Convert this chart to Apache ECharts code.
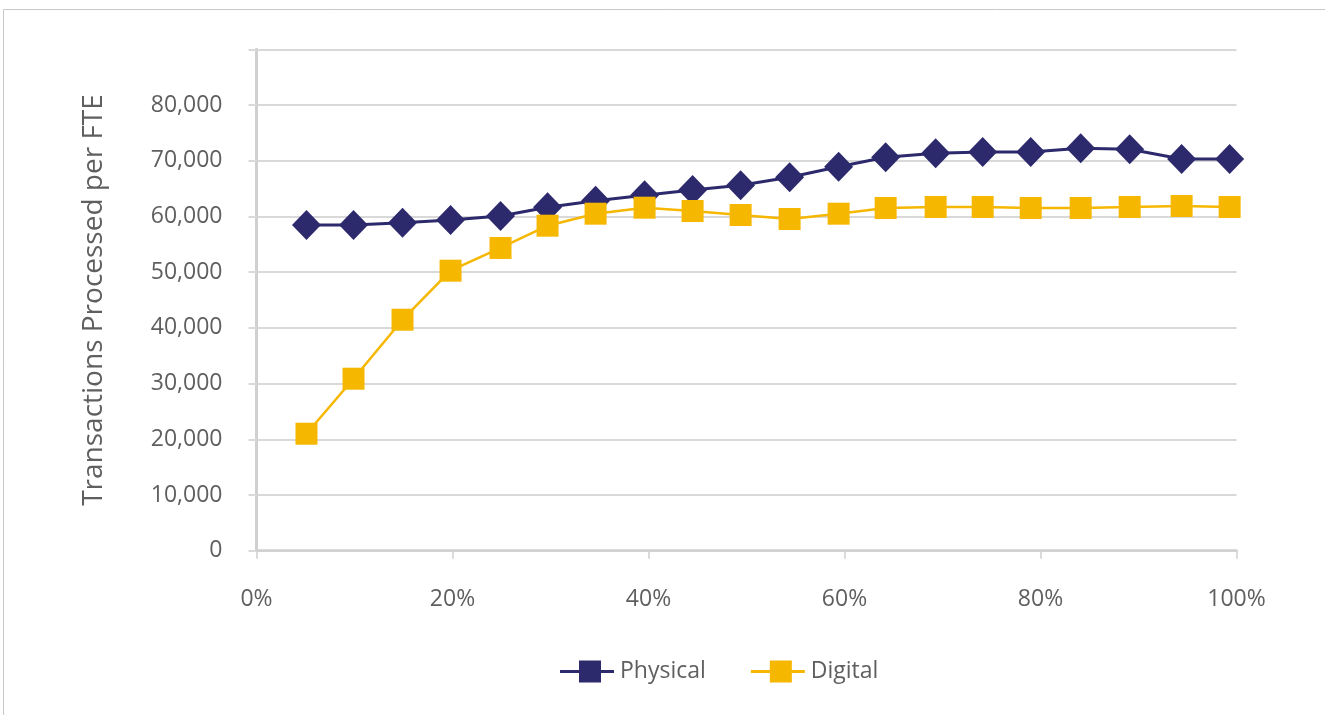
<!DOCTYPE html>
<html>
<head>
<meta charset="utf-8">
<style>
  html, body { margin: 0; padding: 0; background: #ffffff; }
  #chart { width: 1325px; height: 715px; }
</style>
<script src="https://cdn.jsdelivr.net/npm/echarts@6/dist/echarts.min.js"></script>
</head>
<body>
<div id="chart"></div>
<script>
// Share of volume processed (%), one point per band
const shares = [5.1, 9.9, 14.9, 19.8, 24.9, 29.7, 34.6, 39.6, 44.5, 49.4,
                54.4, 59.4, 64.2, 69.3, 74.1, 79.0, 84.1, 89.1, 94.4, 99.3];

// Transactions processed per FTE
const physical = [58460, 58460, 58880, 59360, 60080, 61640, 62820, 63790, 64750, 65590,
                  67020, 68930, 70620, 71330, 71570, 71570, 72230, 72050, 70310, 70310];
const digital  = [21000, 30870, 41460, 50260, 54340, 58340, 60490, 61570, 60980, 60260,
                  59540, 60490, 61520, 61700, 61700, 61520, 61520, 61700, 61870, 61700];

const seriesNames = ['Physical', 'Digital'];
const yTitle = 'Transactions Processed per FTE';

const NAVY = '#2C2A6C';
const GOLD = '#F6B700';
const TEXT = '#5f5f5f';
const GRID = '#d9d9d9';
const AXIS = '#d0d0d0';
const FONT = '"Open Sans", "Liberation Sans", sans-serif';

// Legend glyph: a short line through a square marker
const legendIcon = 'path://M0,9.5 L19,9.5 L19,0 L41,0 L41,9.5 L54,9.5 L54,12.5 L41,12.5 L41,22 L19,22 L19,12.5 L0,12.5 Z';

const pairs = (ys) => shares.map((x, i) => [x, ys[i]]);

const chart = echarts.init(document.getElementById('chart'), null, { renderer: 'canvas' });
chart.setOption({
  backgroundColor: '#ffffff',
  animation: false,
  textStyle: { fontFamily: FONT },
  graphic: [{
    type: 'rect',
    silent: true,
    shape: { x: 3.5, y: 9.5, width: 1400, height: 800 },
    style: { fill: 'none', stroke: '#c8c8c8', lineWidth: 1 }
  }],
  grid: { left: 256.5, right: 88.5, top: 49.3, bottom: 164.3, containLabel: false },
  legend: {
    data: seriesNames.map(n => ({ name: n, icon: legendIcon })),
    top: 655,
    left: 555,
    itemWidth: 54,
    itemHeight: 22,
    itemGap: 45,
    textStyle: { color: TEXT, fontSize: 23, fontFamily: FONT, padding: [0, 0, 0, 1] }
  },
  xAxis: {
    type: 'value',
    min: 0, max: 100, interval: 20,
    axisLine: { show: true, lineStyle: { color: AXIS, width: 2.5 } },
    axisTick: { show: true, length: 8, lineStyle: { color: AXIS, width: 1.5 } },
    splitLine: { show: false },
    axisLabel: { formatter: '{value}%', color: TEXT, fontSize: 23, margin: 37, fontFamily: FONT }
  },
  yAxis: {
    type: 'value',
    min: 0, max: 90000, interval: 10000,
    name: yTitle,
    nameLocation: 'middle',
    nameGap: 148,
    nameRotate: 90,
    nameTextStyle: { color: TEXT, fontSize: 28, fontFamily: FONT },
    axisLine: { show: true, lineStyle: { color: AXIS, width: 3 } },
    axisTick: { show: true, length: 8, lineStyle: { color: GRID, width: 2 } },
    splitLine: { show: true, lineStyle: { color: GRID, width: 2 } },
    axisLabel: {
      color: TEXT, fontSize: 23, margin: 34, fontFamily: FONT,
      formatter: v => (v >= 90000 ? '' : v.toLocaleString('en-US'))
    }
  },
  series: [
    {
      name: seriesNames[0],
      type: 'line',
      data: pairs(physical),
      symbol: 'diamond',
      symbolSize: [29, 30],
      itemStyle: { color: NAVY },
      lineStyle: { color: NAVY, width: 3 },
      z: 2
    },
    {
      name: seriesNames[1],
      type: 'line',
      data: pairs(digital),
      symbol: 'rect',
      symbolSize: 22,
      itemStyle: { color: GOLD },
      lineStyle: { color: GOLD, width: 2.5 },
      z: 3
    }
  ]
});
</script>
</body>
</html>
